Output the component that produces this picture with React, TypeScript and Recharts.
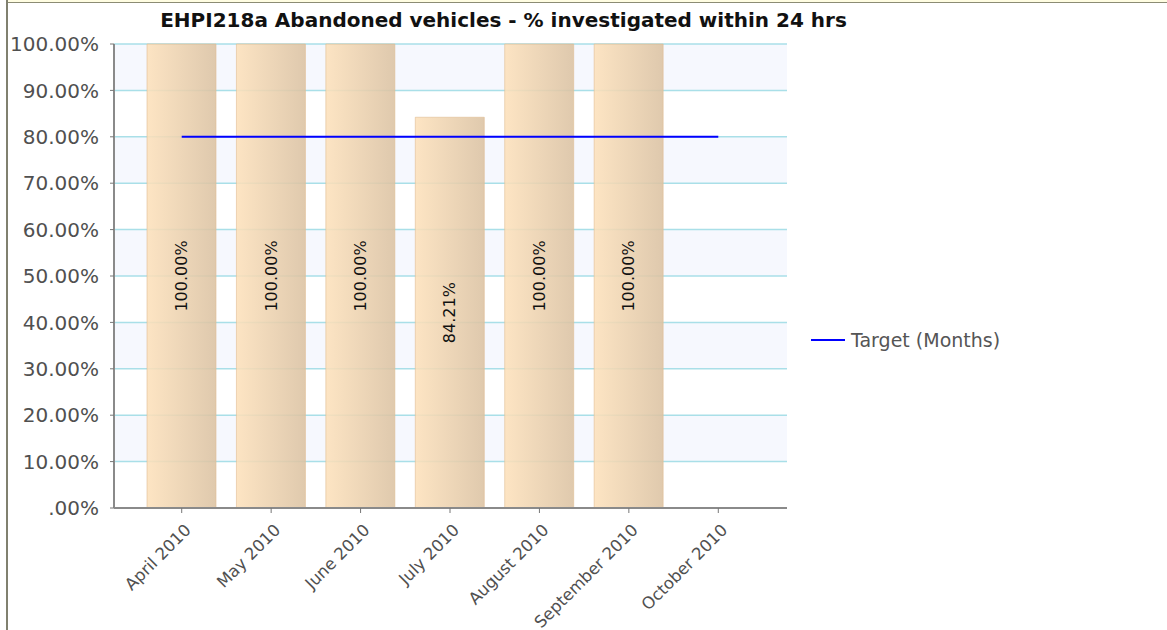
import React from 'react';
import {
  ComposedChart,
  Bar,
  Line,
  XAxis,
  YAxis,
  CartesianGrid,
  Legend,
  LabelList,
} from 'recharts';

const months = [
  'April 2010',
  'May 2010',
  'June 2010',
  'July 2010',
  'August 2010',
  'September 2010',
  'October 2010',
];
const actualValues: (number | null)[] = [100, 100, 100, 84.21, 100, 100, null];
const targetValues = [80, 80, 80, 80, 80, 80, 80];
const yTicks = [0, 10, 20, 30, 40, 50, 60, 70, 80, 90, 100];

const data = months.map((m, i) => ({
  month: m,
  actual: actualValues[i],
  target: targetValues[i],
}));

const FONT = '"DejaVu Sans", Verdana, sans-serif';

const fmtTick = (v: number) => (v === 0 ? '.00%' : `${v.toFixed(2)}%`);
const fmtLabel = (v: any) => (v == null ? '' : `${Number(v).toFixed(2)}%`);

const XTick = (props: any) => {
  const { x, y, payload } = props;
  return (
    <g transform={`translate(${x + 7},${y + 13})`}>
      <text
        x={0}
        y={0}
        textAnchor="end"
        transform="rotate(-45)"
        fontSize={16.5}
        fill="#505050"
        fontFamily={FONT}
        dominantBaseline="middle"
      >
        {payload.value}
      </text>
    </g>
  );
};

const LegendContent = (props: any) => {
  const items = (props.payload || []).filter((p: any) => p.dataKey === 'target');
  return (
    <div style={{ fontFamily: FONT }}>
      {items.map((it: any) => (
        <div key={it.value} style={{ display: 'flex', alignItems: 'center' }}>
          <svg width={36} height={20} style={{ marginRight: 4 }}>
            <line x1={0} y1={10} x2={34} y2={10} stroke={it.color} strokeWidth={2} />
          </svg>
          <span style={{ fontSize: 19, color: '#555' }}>{it.value}</span>
        </div>
      ))}
    </div>
  );
};

export default function App() {
  return (
    <div
      style={{
        position: 'absolute',
        left: 0,
        top: 0,
        width: 1167,
        height: 630,
        background: '#fff',
        overflow: 'hidden',
      }}
    >
      <div
        style={{
          position: 'absolute',
          left: 6,
          top: 0,
          width: 1161,
          height: 2,
          background: '#fffde2',
          borderBottom: '1px solid #8c8c74',
        }}
      />
      <div
        style={{
          position: 'absolute',
          left: 6,
          top: 0,
          width: 2,
          height: 630,
          background: '#80806f',
        }}
      />
      <div
        style={{
          position: 'absolute',
          left: 0,
          top: 8,
          width: 1007,
          textAlign: 'center',
          fontFamily: FONT,
          fontWeight: 'bold',
          fontSize: 20,
          color: '#111',
          lineHeight: '24px',
          zIndex: 2,
        }}
      >
        EHPI218a Abandoned vehicles - % investigated within 24 hrs
      </div>
      <div style={{ position: 'absolute', left: 0, top: 0 }}>
        <ComposedChart
          width={1167}
          height={630}
          data={data}
          margin={{ top: 44, right: 380, bottom: 0, left: 0 }}
        >
          <defs>
            <linearGradient id="barGrad" x1="0" y1="0" x2="1" y2="0">
              <stop offset="0%" stopColor="#fde1bb" />
              <stop offset="100%" stopColor="#dbc2a2" />
            </linearGradient>
          </defs>
          <CartesianGrid
            horizontal
            vertical={false}
            stroke="#a9dfe8"
            strokeWidth={1.5}
            horizontalFill={['#f6f8fe', '#ffffff']}
          />
          <XAxis
            dataKey="month"
            padding={{ left: 23, right: 24 }}
            tick={<XTick />}
            tickLine={{ stroke: '#777' }}
            tickSize={5}
            axisLine={{ stroke: '#8a8a8a', strokeWidth: 2 }}
            interval={0}
            height={122}
          />
          <YAxis
            width={114}
            domain={[0, 100]}
            ticks={yTicks}
            tickFormatter={fmtTick}
            tick={{ fontSize: 20, fill: '#505050', fontFamily: FONT }}
            tickLine={{ stroke: '#777' }}
            tickSize={4}
            tickMargin={11}
            axisLine={{ stroke: '#8a8a8a', strokeWidth: 2 }}
            interval={0}
          />
          <Bar
            dataKey="actual"
            name="Actual"
            barSize={69}
            fill="url(#barGrad)"
            fillOpacity={0.88}
            stroke="#dfbd92"
            strokeOpacity={0.6}
            isAnimationActive={false}
            legendType="none"
          >
            <LabelList
              dataKey="actual"
              position="center"
              angle={-90}
              formatter={fmtLabel}
              style={{ fontSize: 16, fill: '#111', fontFamily: FONT }}
            />
          </Bar>
          <Line
            dataKey="target"
            name="Target (Months)"
            type="linear"
            stroke="#0000ff"
            strokeWidth={2}
            dot={false}
            activeDot={false}
            isAnimationActive={false}
            legendType="line"
          />
          <Legend
            layout="horizontal"
            verticalAlign="middle"
            align="center"
            content={<LegendContent />}
            wrapperStyle={{ left: 811, top: 329, width: 260, height: 24 }}
          />
        </ComposedChart>
      </div>
    </div>
  );
}
